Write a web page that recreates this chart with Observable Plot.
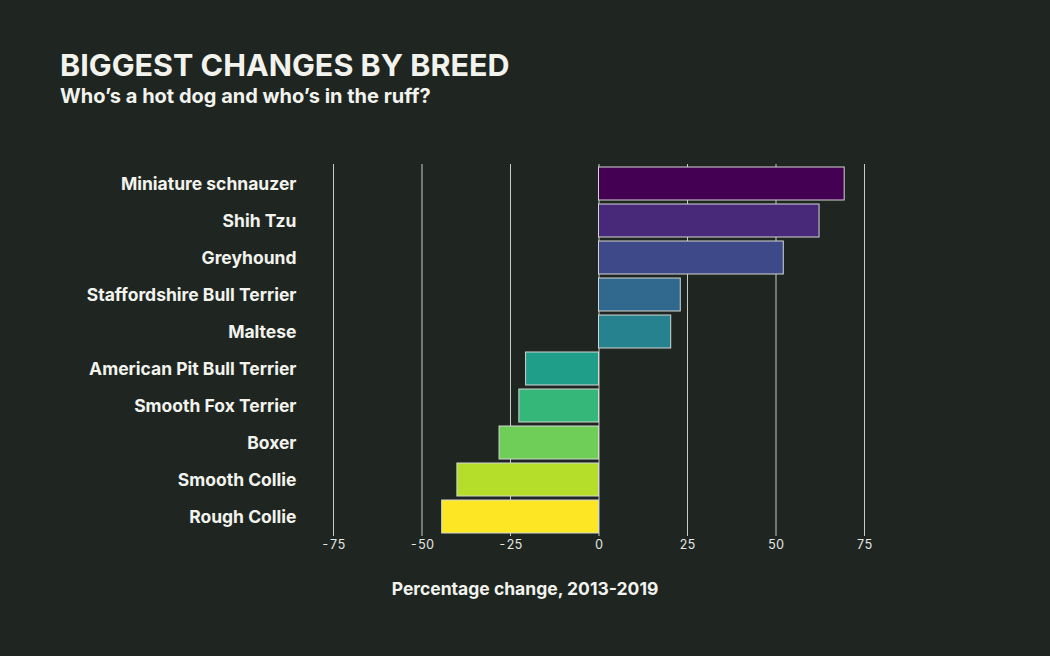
<!DOCTYPE html>
<html>
<head>
<meta charset="utf-8">
<script src="https://cdn.jsdelivr.net/npm/d3@7"></script>
<script src="https://cdn.jsdelivr.net/npm/@observablehq/plot@0.6"></script>
<style>
  html, body { margin: 0; padding: 0; background: #1f2622; }
  body { width: 1050px; height: 656px; overflow: hidden; font-family: Inter, "Noto Sans", sans-serif; color: #f3f3ee; }
  #header { height: 130px; box-sizing: border-box; padding: 47px 0 0 60px; }
  #title { font-size: 30.5px; font-weight: 700; line-height: 36px; margin: 0; }
  #subtitle { font-size: 20px; font-weight: 700; line-height: 26px; margin: 0; }
  #chart svg { display: block; }
  #caption { text-align: center; font-size: 17.5px; font-weight: 700; line-height: 24px; margin-top: 11px; }
</style>
</head>
<body>
<div id="header">
  <div id="title">BIGGEST CHANGES BY BREED</div>
  <div id="subtitle">Who’s a hot dog and who’s in the ruff?</div>
</div>
<div id="chart"></div>
<div id="caption">Percentage change, 2013-2019</div>
<script>
const breeds = [
  "Miniature schnauzer",
  "Shih Tzu",
  "Greyhound",
  "Staffordshire Bull Terrier",
  "Maltese",
  "American Pit Bull Terrier",
  "Smooth Fox Terrier",
  "Boxer",
  "Smooth Collie",
  "Rough Collie"
];
const changes = [69.4, 62.3, 52.2, 23.1, 20.4, -20.6, -22.5, -28.1, -40.0, -44.3];
const xTicks = [-75, -50, -25, 0, 25, 50, 75];

const data = breeds.map((b, i) => ({breed: b, change: changes[i]}));

const chart = Plot.plot({
  width: 1050,
  height: 436,
  marginTop: 34,
  marginBottom: 30,
  marginLeft: 333,
  marginRight: 186,
  style: {background: "transparent", color: "#f3f3ee", fontFamily: "Inter, 'Noto Sans', sans-serif"},
  x: {domain: [-75, 75], ticks: xTicks, tickSize: 0, tickPadding: 4, label: null},
  y: {domain: breeds, paddingInner: 0.1, paddingOuter: 0.05, tickSize: 0, tickPadding: 37, label: null},
  color: {type: "ordinal", domain: breeds, scheme: "viridis"},
  marks: [
    Plot.ruleX(xTicks, {stroke: "#c8cac6", strokeWidth: 1}),
    Plot.barX(data, {x: "change", y: "breed", fill: "breed", stroke: "#d4d6d2", strokeWidth: 1}),
    Plot.axisX({ticks: xTicks, tickSize: 0, tickPadding: 4, fontSize: 12.5, fill: "#e6e6e2", label: null, tickFormat: d => String(d)}),
    Plot.axisY({tickSize: 0, tickPadding: 37, fontSize: 17.5, fontWeight: 700, fill: "#f3f3ee", label: null})
  ]
});
document.getElementById("chart").appendChild(chart);
</script>
</body>
</html>
